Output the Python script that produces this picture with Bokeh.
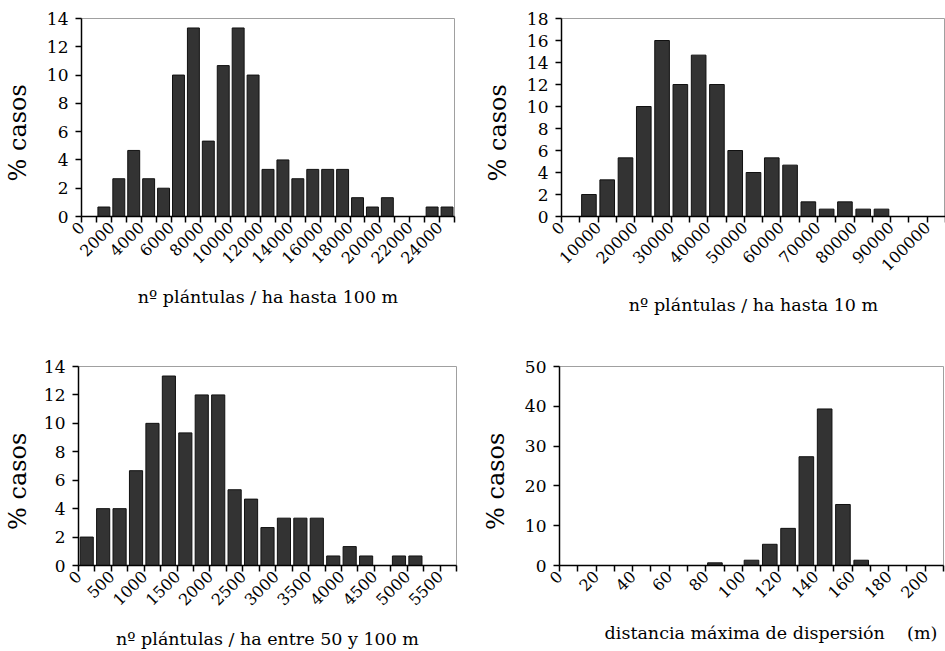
import math
from bokeh.plotting import figure
from bokeh.layouts import row, column
from bokeh.models import Range1d, FixedTicker
from bokeh.embed import file_html
from bokeh.resources import INLINE

FONT = "DejaVu Serif"
NB = "\u00a0"

# ---- data (percent of cases per class) ----
a_bin_width = 1000
a_pct = [0, 0.67, 2.67, 4.67, 2.67, 2.0, 10.0, 13.33, 5.33, 10.67, 13.33, 10.0,
         3.33, 4.0, 2.67, 3.33, 3.33, 3.33, 1.33, 0.67, 1.33, 0, 0, 0.67, 0.67]
a_xlabel = "nº plántulas / ha hasta 100 m"
a_yticks = [0, 2, 4, 6, 8, 10, 12, 14]

b_bin_width = 5000
b_pct = [0, 2.0, 3.33, 5.33, 10.0, 16.0, 12.0, 14.67, 12.0, 6.0, 4.0, 5.33,
         4.67, 1.33, 0.67, 1.33, 0.67, 0.67, 0, 0, 0]
b_xlabel = "nº plántulas / ha hasta 10 m"
b_yticks = [0, 2, 4, 6, 8, 10, 12, 14, 16, 18]

c_bin_width = 250
c_pct = [2.0, 4.0, 4.0, 6.67, 10.0, 13.33, 9.33, 12.0, 12.0, 5.33, 4.67, 2.67,
         3.33, 3.33, 3.33, 0.67, 1.33, 0.67, 0, 0.67, 0.67, 0, 0]
c_xlabel = "nº plántulas / ha entre 50 y 100 m"
c_yticks = [0, 2, 4, 6, 8, 10, 12, 14]

d_bin_width = 10
d_pct = [0, 0, 0, 0, 0, 0, 0, 0, 0.67, 0, 1.33, 5.33, 9.33, 27.33, 39.33,
         15.33, 1.33, 0, 0, 0, 0]
d_xlabel = "distancia máxima de dispersión" + NB * 4 + "(m)"
d_yticks = [0, 10, 20, 30, 40, 50]

y_title = "% casos" + NB * 4


def make(pct, bw, yticks, xlabel, width, height, bl, br, bt, bb,
         xstand, ystand, xpad=""):
    n = len(pct)
    p = figure(width=width, height=height, output_backend="svg",
               toolbar_location=None,
               x_range=Range1d(0, n * bw), y_range=Range1d(yticks[0], yticks[-1]),
               min_border_left=bl, min_border_right=br,
               min_border_top=bt, min_border_bottom=bb)
    centers = [bw * (i + 0.5) for i in range(n)]
    p.vbar(x=centers, top=pct, width=0.8 * bw, fill_color="#333333",
           line_color="#111111", line_width=1)
    p.xgrid.visible = False
    p.ygrid.visible = False
    p.outline_line_color = "#a0a0a0"
    p.outline_line_width = 1

    ticks = [i * bw for i in range(n + 1)]
    p.xaxis.ticker = FixedTicker(ticks=ticks, minor_ticks=[])
    p.xaxis.major_label_overrides = {t: (str(t) if i % 2 == 0 else "") for i, t in enumerate(ticks)}
    p.yaxis.ticker = FixedTicker(ticks=yticks, minor_ticks=[])

    for ax in (p.xaxis[0], p.yaxis[0]):
        ax.axis_line_color = "black"
        ax.axis_line_width = 1.5
        ax.major_tick_line_color = "black"
        ax.major_tick_line_width = 1.5
        ax.major_tick_out = 6
        ax.major_tick_in = 0
        ax.minor_tick_line_color = None
        ax.major_label_text_font = FONT
        ax.major_label_text_color = "black"
        ax.axis_label_text_font = FONT
        ax.axis_label_text_color = "black"
        ax.axis_label_text_font_style = "normal"

    p.xaxis.major_label_orientation = math.pi / 4
    p.xaxis.major_label_text_font_size = "16px"
    p.xaxis.major_label_standoff = 2
    p.xaxis.axis_label = xpad + xlabel
    p.xaxis.axis_label_text_font_size = "17.5px"
    p.xaxis.axis_label_standoff = xstand

    p.yaxis.major_label_text_font_size = "17px"
    p.yaxis.major_label_standoff = 7
    p.yaxis.axis_label = y_title
    p.yaxis.axis_label_text_font_size = "24px"
    p.yaxis.axis_label_standoff = ystand
    return p


f1 = make(a_pct, a_bin_width, a_yticks, a_xlabel, 478, 328, 80, 24, 16, 112, 15, 12)
f2 = make(b_pct, b_bin_width, b_yticks, b_xlabel, 467, 328, 83, 0, 18, 110, 16, 12)
f3 = make(c_pct, c_bin_width, c_yticks, c_xlabel, 478, 323, 77, 22, 32, 84, 15, 9)
f4 = make(d_pct, d_bin_width, d_yticks, d_xlabel, 467, 323, 81, 2, 38, 85, 16, 12,
          xpad=NB * 7)

layout = column(row(f1, f2), row(f3, f4))

open("out.html", "w").write(file_html(layout, INLINE))
